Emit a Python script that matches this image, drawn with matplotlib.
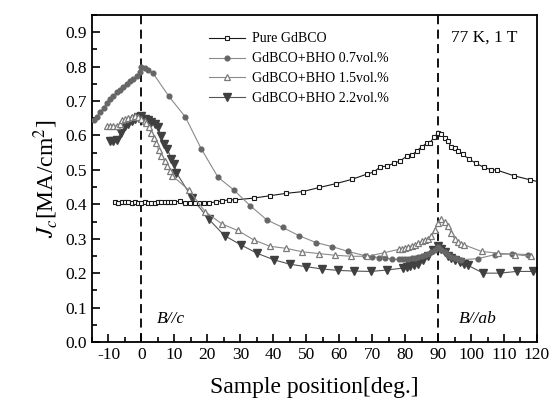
import matplotlib
matplotlib.use("Agg")
import matplotlib.pyplot as plt
from matplotlib.ticker import MultipleLocator

plt.rcParams['font.family'] = ['Liberation Serif', 'DejaVu Serif']
plt.rcParams['mathtext.fontset'] = 'stix'
plt.rcParams['axes.unicode_minus'] = False

# Pure GdBCO
x_pure = [-8, -7, -6, -5, -4, -3, -2, -1, 0, 1, 2, 3, 4, 5, 6, 7, 8, 9, 10,
          11.6, 13.1, 14.6, 16.1, 17.6, 19.1, 20.6, 22.5, 24.5, 26.5, 28.5,
          34, 39, 44, 49, 54, 59, 64, 68.5, 70.5, 72.5, 74.5, 76.5, 78.5,
          80.5, 82, 83.5, 85, 86.5, 87.5, 88.8, 90, 91, 92, 93, 94, 95, 96,
          97.5, 99.5, 101.5, 104, 106, 108, 113, 118, 122]
y_pure = [0.408, 0.405, 0.407, 0.408, 0.406, 0.404, 0.407, 0.405, 0.403, 0.406,
          0.405, 0.405, 0.405, 0.406, 0.406, 0.407, 0.407, 0.407, 0.407,
          0.409, 0.404, 0.405, 0.403, 0.404, 0.404, 0.404, 0.407, 0.410, 0.413, 0.413,
          0.418, 0.425, 0.432, 0.437, 0.449, 0.460, 0.473, 0.488, 0.494, 0.509, 0.511, 0.519, 0.526,
          0.540, 0.542, 0.555, 0.567, 0.577, 0.579, 0.595, 0.608, 0.603, 0.593, 0.584, 0.566, 0.563, 0.555,
          0.545, 0.531, 0.519, 0.507, 0.501, 0.499, 0.483, 0.471, 0.462]

# GdBCO+BHO 0.7vol.%
x_07 = [-14.5, -13.5, -12.5, -11.5, -10.5, -9.5, -8.5, -7.5, -6.5, -5.5, -4.5,
        -3.5, -2.5, -1.5, -0.5, 0, 1, 2, 3.5, 8.3, 13.3, 18.1, 23.2, 28.1, 33,
        38, 42.8, 47.8, 52.9, 57.9, 62.7, 67.7, 70, 72, 74, 76, 78, 79, 80, 81,
        82, 83, 84, 85, 86, 87, 88, 89, 90, 91, 92, 93, 94, 95, 96, 97, 102,
        107.3, 112.3, 117.3]
y_07 = [0.645, 0.655, 0.668, 0.680, 0.695, 0.705, 0.715, 0.725, 0.733, 0.742, 0.750,
        0.757, 0.765, 0.772, 0.785, 0.800, 0.797, 0.790, 0.781, 0.714, 0.654, 0.562, 0.479, 0.441, 0.396,
        0.355, 0.333, 0.309, 0.289, 0.277, 0.263, 0.251, 0.248, 0.245, 0.243, 0.241, 0.240, 0.240, 0.241, 0.242,
        0.243, 0.245, 0.247, 0.249, 0.252, 0.256, 0.261, 0.268, 0.275, 0.268, 0.260, 0.253, 0.247, 0.243, 0.240, 0.239, 0.242,
        0.254, 0.256, 0.254]

# GdBCO+BHO 1.5vol.%
x_15 = [-10.5, -9.5, -8.5, -7.5, -6.5, -6, -5, -4, -3, -2, -1, 0, 1, 1.5, 2.2,
        3, 3.8, 4.5, 5.2, 6, 7, 7.9, 8.6, 9.4, 14.4, 19.3, 24.4, 29.2, 34, 39,
        44, 48.8, 53.8, 58.7, 63.7, 68.5, 73.5, 78, 79, 80, 81, 82, 83, 84, 85,
        86, 87, 88, 89, 90, 91, 92, 93, 94, 95, 96, 97, 98, 103.2, 108.3,
        113.3, 118.3]
y_15 = [0.627, 0.627, 0.628, 0.628, 0.632, 0.645, 0.648, 0.650, 0.655, 0.656, 0.655, 0.648, 0.642, 0.637, 0.624,
        0.608, 0.593, 0.579, 0.557, 0.540, 0.526, 0.510, 0.497, 0.483, 0.441, 0.379, 0.343, 0.324, 0.297, 0.278,
        0.272, 0.262, 0.257, 0.252, 0.249, 0.249, 0.259, 0.269, 0.271, 0.273, 0.277, 0.280, 0.283, 0.287, 0.292,
        0.295, 0.300, 0.309, 0.326, 0.345, 0.356, 0.348, 0.338, 0.316, 0.300, 0.290, 0.285, 0.282, 0.263, 0.258,
        0.254, 0.249]

# GdBCO+BHO 2.2vol.%
x_22 = [-9.5, -8.5, -7.5, -6.2, -5, -4, -3, -2, -1, 0, 1, 2, 3, 4, 5, 6, 6.9,
        7.9, 9.1, 9.9, 10.6, 15.4, 20.4, 25.2, 30.2, 35, 40.1, 45, 49.8, 54.9,
        59.7, 64.6, 69.5, 74.5, 79.5, 80.5, 81.5, 82.6, 84, 85.5, 87, 88.5, 90,
        91, 92, 93, 94, 95, 96.5, 98, 99, 103.7, 108.8, 113.8, 118.8]
y_22 = [0.585, 0.583, 0.587, 0.608, 0.627, 0.632, 0.642, 0.647, 0.653, 0.656, 0.649, 0.646, 0.640, 0.632, 0.624, 0.598, 0.574,
        0.560, 0.531, 0.516, 0.492, 0.418, 0.357, 0.309, 0.282, 0.258, 0.239, 0.226, 0.219, 0.212,
        0.208, 0.206, 0.205, 0.209, 0.215, 0.217, 0.221, 0.225, 0.228, 0.237, 0.251, 0.266, 0.280,
        0.271, 0.261, 0.251, 0.244, 0.237, 0.232, 0.227, 0.223, 0.200, 0.200, 0.205, 0.205]

labels = ['Pure GdBCO', 'GdBCO+BHO 0.7vol.%', 'GdBCO+BHO 1.5vol.%', 'GdBCO+BHO 2.2vol.%']

fig = plt.figure(figsize=(5.53, 4.08), dpi=100)
ax = fig.add_axes([0.1664, 0.1618, 0.8046, 0.8014])

ax.axvline(0, color='black', ls=(0, (5, 3)), lw=1.3, zorder=1)
ax.axvline(90, color='black', ls=(0, (5, 3)), lw=1.3, zorder=1)

ax.plot(x_pure, y_pure, color='#1a1a1a', lw=0.8, marker='s', ms=3,
        mfc='white', mec='#1a1a1a', mew=0.8, label=labels[0], zorder=3)
ax.plot(x_07, y_07, color='#8a8a8a', lw=0.8, marker='o', ms=3.4,
        mfc='#666666', mec='#666666', label=labels[1], zorder=3)
ax.plot(x_15, y_15, color='#8a8a8a', lw=0.8, marker='^', ms=5,
        mfc='white', mec='#7a7a7a', mew=0.9, label=labels[2], zorder=4)
ax.plot(x_22, y_22, color='#555555', lw=0.8, marker='v', ms=5.5,
        mfc='#404040', mec='#404040', label=labels[3], zorder=2)

ax.set_xlim(-15, 120)
ax.set_ylim(0, 0.95)
ax.set_xticks(range(-10, 121, 10))
ax.set_yticks([i / 10 for i in range(10)])
ax.set_yticklabels(['%.1f' % (i / 10) for i in range(10)])
ax.xaxis.set_minor_locator(MultipleLocator(5))
ax.yaxis.set_minor_locator(MultipleLocator(0.05))
ax.tick_params(which='both', direction='in', top=False, right=False, labelsize=12.5, width=1.2)
ax.tick_params(which='major', length=6)
ax.tick_params(which='minor', length=3.5)
for s in ax.spines.values():
    s.set_linewidth(1.3)

ax.set_xlabel('Sample position[deg.]', fontsize=17, labelpad=10)
ax.set_ylabel(r'$J_{c}$[MA/cm$^2$]', fontsize=17, labelpad=4)

ax.text(104, 0.885, '77 K, 1 T', fontsize=12.5, ha='center', va='center')
ax.text(9, 0.066, 'B//c', fontsize=12.5, style='italic', ha='center', va='center')
ax.text(102, 0.066, 'B//ab', fontsize=12.5, style='italic', ha='center', va='center')

ax.legend(loc='upper left', bbox_to_anchor=(0.235, 0.985), frameon=False,
          fontsize=10, handlelength=2.6, labelspacing=0.5, handletextpad=0.5)

fig.savefig('out.png', dpi=100)
